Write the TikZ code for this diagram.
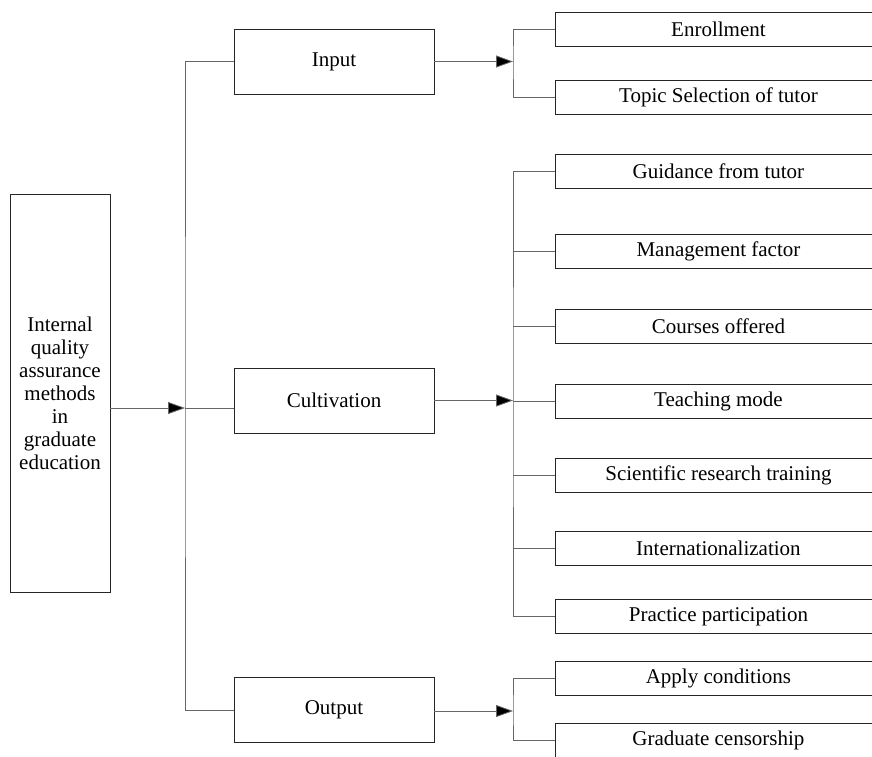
\documentclass[tikz,border=0pt]{standalone}
\usepackage{fontspec}
\setmainfont{Liberation Serif}
\usetikzlibrary{arrows.meta}
\begin{document}
\begin{tikzpicture}[x=1pt,y=-1pt,
  box/.style={draw=black!85,line width=0.9pt,rectangle,inner sep=0pt,font=\fontsize{21}{23}\selectfont,fill=white},
  leaf/.style={box,minimum width=326pt,minimum height=34pt,anchor=north west},
  mid/.style={box,minimum width=200pt,minimum height=65pt},
  conn/.style={draw=black!60,line width=0.8pt},
  arr/.style={conn,-{Triangle[length=17pt,width=12pt,fill=black]}}]
\useasboundingbox (0,0) rectangle (872,756);
\clip (0,0) rectangle (872,756);
% main box
\node[box,minimum width=100pt,minimum height=398pt,text width=98pt,align=center] (main) at (60,393)
  {Internal\\quality\\assurance\\methods\\in\\graduate\\education};
% middle boxes
\node[mid] (in) at (334,61.5) {Input};
\node[mid] (cult) at (334,400.5) {Cultivation};
\node[mid] (out) at (334,710) {Output};
% leaf boxes
\node[leaf] (enr) at (555,12) {Enrollment};
\node[leaf] (top) at (555,80) {Topic Selection of tutor};
\node[leaf] (gui) at (555,154) {Guidance from tutor};
\node[leaf] (man) at (555,234) {Management factor};
\node[leaf] (cou) at (555,309) {Courses offered};
\node[leaf] (tea) at (555,384) {Teaching mode};
\node[leaf] (sci) at (555,458) {Scientific research training};
\node[leaf] (int) at (555,531) {Internationalization};
\node[leaf] (pra) at (555,599) {Practice participation};
\node[leaf] (app) at (555,661) {Apply conditions};
\node[leaf] (gra) at (555,723) {Graduate censorship};
% junctions
\coordinate (j1) at (185,408);
\coordinate (k1) at (513,61.5);
\coordinate (k2) at (513,400.5);
\coordinate (k3) at (513,711);
% trunk
\draw[conn] (in.west) -| (j1) |- (out.west);
\draw[conn] (j1) -- (cult.west |- j1);
\draw[arr] (main.east |- j1) -- (j1);
% input group
\draw[conn] (enr.west) -| (k1) |- (top.west);
\draw[arr] (in.east) -- (k1);
% cultivation group
\draw[conn] (gui.west) -| (k2) |- (pra.west);
\draw[conn] (k2 |- man.west) -- (man.west);
\draw[conn] (k2 |- cou.west) -- (cou.west);
\draw[conn] (k2 |- tea.west) -- (tea.west);
\draw[conn] (k2 |- sci.west) -- (sci.west);
\draw[conn] (k2 |- int.west) -- (int.west);
\draw[arr] (cult.east) -- (k2);
% output group
\draw[conn] (app.west) -| (k3) |- (gra.west);
\draw[arr] (out.east |- k3) -- (k3);
\end{tikzpicture}
\end{document}
